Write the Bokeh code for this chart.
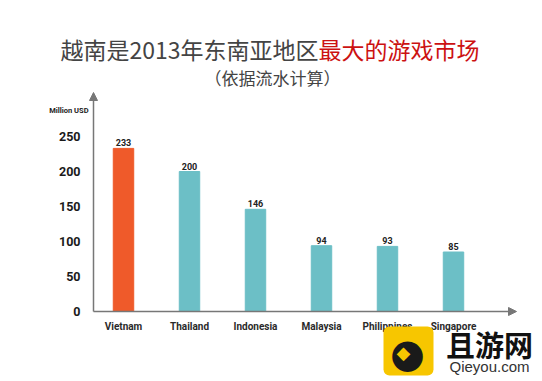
from bokeh.plotting import figure
from bokeh.models import (Range1d, FixedTicker, Label, Arrow, NormalHead,
                          ColumnDataSource, BoxAnnotation, LinearAxis)
from bokeh.core.properties import value
from bokeh.embed import file_html
from bokeh.resources import INLINE

# ---- data ----
countries = ["Vietnam", "Thailand", "Indonesia", "Malaysia", "Philippines", "Singapore"]
revenue = [233, 200, 146, 94, 93, 85]
bar_colors = ["#ef5a2a", "#6cbfc6", "#6cbfc6", "#6cbfc6", "#6cbfc6", "#6cbfc6"]
y_ticks = [0, 50, 100, 150, 200, 250]
title_gray = "越南是2013年东南亚地区"
title_red = "最大的游戏市场"
subtitle = "（依据流水计算）"
y_unit = "Million USD"

W, H = 542, 381
FONT = "Roboto"

# pixel mapping helpers (picture coords -> data coords)
def dx(px):
    return (px - 123) / 66.0

def dy(py):
    return (311 - py) / 0.7

xs = list(range(len(countries)))
src = ColumnDataSource(dict(x=xs, v=revenue, c=bar_colors,
                            lbl=[str(v) for v in revenue]))

p = figure(width=W, height=H, output_backend="svg", toolbar_location=None,
           x_range=Range1d(dx(0), dx(W)), y_range=Range1d(dy(H), dy(0)),
           x_axis_location=None, y_axis_location=None,
           min_border=0)
p.outline_line_color = None
p.background_fill_color = "white"
p.border_fill_color = "white"
p.grid.visible = False

p.vbar(x="x", top="v", width=0.31, color="c", source=src)
p.text(x="x", y="v", text="lbl", source=src, text_align="center",
       text_baseline="bottom", y_offset=-2, text_font_size="9px",
       text_font_style="bold",
       text_color="#222222", text_font=value(FONT))

x0 = dx(93)
# axes placed inside the frame
yax = LinearAxis(fixed_location=x0, ticker=FixedTicker(ticks=y_ticks))
yax.axis_line_color = None
yax.major_tick_line_color = None
yax.minor_tick_line_color = None
yax.major_label_text_font = FONT
yax.major_label_text_font_style = "bold"
yax.major_label_text_font_size = "12.5px"
yax.major_label_text_color = "#1a1a1a"
yax.major_label_standoff = 7
p.add_layout(yax, "left")

xax = LinearAxis(fixed_location=0, ticker=FixedTicker(ticks=xs))
xax.major_label_overrides = {i: c for i, c in zip(xs, countries)}
xax.axis_line_color = None
xax.major_tick_line_color = None
xax.minor_tick_line_color = None
xax.major_label_text_font = FONT
xax.major_label_text_font_style = "bold"
xax.major_label_text_font_size = "10px"
xax.major_label_text_color = "#2a2a2a"
xax.major_label_standoff = 3
p.add_layout(xax, "below")

# axis lines with arrows
p.add_layout(Arrow(x_start=x0, y_start=0, x_end=x0, y_end=dy(92),
                   line_color="#777777", line_width=1.5,
                   end=NormalHead(size=8, fill_color="#777777", line_color="#777777")))
p.add_layout(Arrow(x_start=x0, y_start=0, x_end=dx(516), y_end=0,
                   line_color="#777777", line_width=1.5,
                   end=NormalHead(size=8, fill_color="#777777", line_color="#777777")))

p.add_layout(Label(x=dx(88), y=dy(110), text=y_unit, text_align="right",
                   text_baseline="middle", text_font_size="7.5px",
                   text_font=FONT, text_font_style="bold",
                   text_color="#222222"))

# titles
p.add_layout(Label(x=dx(318), y=dy(48), text=title_gray, text_align="right",
                   text_baseline="middle", text_font_size="23px",
                   text_font="Noto Sans CJK SC", text_color="#444444"))
p.add_layout(Label(x=dx(318), y=dy(48), text=title_red, text_align="left",
                   text_baseline="middle", text_font_size="23px",
                   text_font="Noto Sans CJK SC", text_color="#cc1111"))
p.add_layout(Label(x=dx(272), y=dy(77), text=subtitle, text_align="center",
                   text_baseline="middle", text_font_size="17px",
                   text_font="Noto Sans CJK SC", text_color="#444444"))

# watermark
p.add_layout(BoxAnnotation(left=dx(383), right=dx(433),
                           top=dy(326), bottom=dy(375),
                           fill_color="#f7c600", fill_alpha=1, line_color=None,
                           border_radius=6))
p.add_layout(Label(x=dx(407), y=dy(352), text="●",
                   text_align="center", text_baseline="middle",
                   text_font_size="40px", text_color="#1a1a1a",
                   text_font="DejaVu Sans"))
p.add_layout(Label(x=dx(403), y=dy(352), text="◆",
                   text_align="center", text_baseline="middle",
                   text_font_size="18px", text_color="#f7c600",
                   text_font="DejaVu Sans"))
p.add_layout(Label(x=dx(489), y=dy(343), text="且游网",
                   text_align="center", text_baseline="middle",
                   text_font_size="29px", text_font_style="bold",
                   text_font="Noto Sans CJK SC", text_color="#111111"))
p.add_layout(Label(x=dx(489), y=dy(366), text="Qieyou.com",
                   text_align="center", text_baseline="middle",
                   text_font_size="15px", text_font="Liberation Sans",
                   text_color="#333333"))

open("out.html", "w").write(file_html(p, INLINE))
